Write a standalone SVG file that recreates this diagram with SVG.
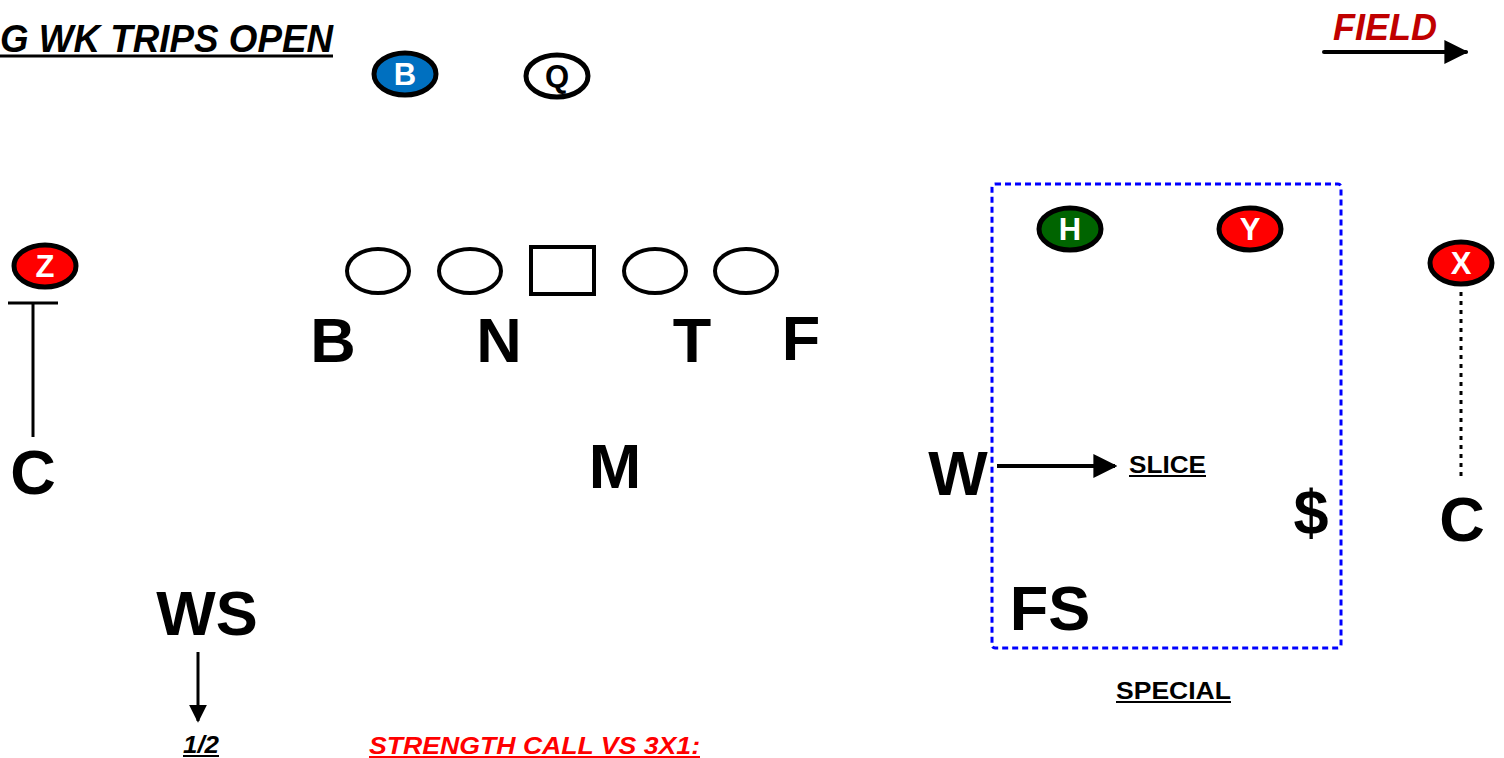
<svg xmlns="http://www.w3.org/2000/svg" width="1504" height="758" viewBox="0 0 1504 758">
<style>
.lbl{font-family:"Liberation Sans",Arial,sans-serif;font-weight:bold;font-size:63px;fill:#000;text-anchor:middle}
.pl{stroke:#000;stroke-width:5}
.pt{font-family:"Liberation Sans",Arial,sans-serif;font-weight:bold;font-size:31px;fill:#fff;text-anchor:middle}
.ol{fill:#fff;stroke:#000;stroke-width:4}
.sm{font-family:"Liberation Sans",Arial,sans-serif;font-weight:bold;font-size:23px;fill:#000}
.ul{stroke:#000;stroke-width:2}
</style>
<defs>
<marker id="ah" viewBox="0 0 10 10" refX="9" refY="5" markerWidth="6" markerHeight="6" markerUnits="strokeWidth" orient="auto">
<path d="M0,0 L10,5 L0,10 z" fill="#000"/>
</marker>
</defs>
<rect width="1504" height="758" fill="#fff"/>
<g id="title">
<text x="0" y="52" font-family="Liberation Sans,Arial,sans-serif" font-weight="bold" font-style="italic" font-size="39" textLength="333" lengthAdjust="spacingAndGlyphs">G WK TRIPS OPEN</text>
<line x1="0" y1="56" x2="333" y2="56" stroke="#000" stroke-width="3"/>
</g>
<g id="field">
<text x="1385" y="40" font-family="Liberation Sans,Arial,sans-serif" font-weight="bold" font-style="italic" font-size="36" fill="#c00000" text-anchor="middle">FIELD</text>
</g>
<g id="connectors">
<line x1="1324" y1="52" x2="1466" y2="52" stroke="#000" stroke-width="4" stroke-linecap="round" marker-end="url(#ah)"/>
<line x1="8" y1="303" x2="58" y2="303" stroke="#000" stroke-width="3"/>
<line x1="33" y1="303" x2="33" y2="437" stroke="#000" stroke-width="3"/>
<line x1="1461" y1="292" x2="1461" y2="478" stroke="#000" stroke-width="3" stroke-dasharray="4 5"/>
<line x1="997" y1="466" x2="1115" y2="466" stroke="#000" stroke-width="4" marker-end="url(#ah)"/>
<line x1="198" y1="652" x2="198" y2="721" stroke="#000" stroke-width="3" marker-end="url(#ah)"/>
</g>
<g id="node-B"><ellipse cx="405" cy="74" rx="31" ry="21" fill="#0070c0" class="pl"/><text x="405" y="85" class="pt">B</text></g>
<g id="node-Q"><ellipse cx="557" cy="76" rx="31" ry="21" fill="#fff" class="pl"/><text x="557" y="87" class="pt" style="fill:#000">Q</text></g>
<g id="node-Z"><ellipse cx="45" cy="266" rx="31" ry="21" fill="#ff0000" class="pl"/><text x="45" y="277" class="pt">Z</text></g>
<g id="node-H"><ellipse cx="1070" cy="229" rx="31" ry="21" fill="#006400" class="pl"/><text x="1070" y="240" class="pt">H</text></g>
<g id="node-Y"><ellipse cx="1250" cy="229" rx="31" ry="21" fill="#ff0000" class="pl"/><text x="1250" y="240" class="pt">Y</text></g>
<g id="node-X"><ellipse cx="1461" cy="263" rx="31" ry="21" fill="#ff0000" class="pl"/><text x="1461" y="274" class="pt">X</text></g>
<g id="oline">
<ellipse cx="378" cy="271" rx="31" ry="22" class="ol"/>
<ellipse cx="470" cy="271" rx="31" ry="22" class="ol"/>
<rect x="531" y="247" width="63" height="47" class="ol"/>
<ellipse cx="655" cy="271" rx="31" ry="22" class="ol"/>
<ellipse cx="746" cy="271" rx="31" ry="22" class="ol"/>
</g>
<g id="special-box"><rect x="992" y="184" width="349" height="464" rx="3" fill="none" stroke="#0000ff" stroke-width="3" stroke-dasharray="6 4"/></g>
<g id="def-B"><text x="333" y="362" class="lbl">B</text></g>
<g id="def-N"><text x="499" y="362" class="lbl">N</text></g>
<g id="def-T"><text x="692" y="362" class="lbl">T</text></g>
<g id="def-F"><text x="801" y="360" class="lbl">F</text></g>
<g id="def-M"><text x="615" y="488" class="lbl">M</text></g>
<g id="def-W"><text x="958" y="495" class="lbl">W</text></g>
<g id="def-C1"><text x="33" y="494" class="lbl">C</text></g>
<g id="def-C2"><text x="1462" y="541" class="lbl">C</text></g>
<g id="def-dollar"><text x="1311" y="534" class="lbl">$</text></g>
<g id="def-WS"><text x="207" y="635" class="lbl">WS</text></g>
<g id="def-FS"><text x="1050" y="630" class="lbl">FS</text></g>
<g id="labels">
<text x="1129" y="473" class="sm" textLength="77" lengthAdjust="spacingAndGlyphs">SLICE</text>
<line x1="1129" y1="476" x2="1206" y2="476" class="ul"/>
<text x="1116" y="699" class="sm" textLength="115" lengthAdjust="spacingAndGlyphs">SPECIAL</text>
<line x1="1116" y1="702" x2="1231" y2="702" class="ul"/>
<text x="183" y="753" class="sm" font-style="italic" textLength="36" lengthAdjust="spacingAndGlyphs">1/2</text>
<line x1="183" y1="756" x2="219" y2="756" class="ul"/>
<text x="369" y="754" font-family="Liberation Sans,Arial,sans-serif" font-weight="bold" font-style="italic" font-size="24" fill="#ff0000" textLength="331" lengthAdjust="spacingAndGlyphs">STRENGTH CALL VS 3X1:</text>
<line x1="369" y1="757" x2="700" y2="757" stroke="#ff0000" stroke-width="2"/>
</g>
</svg>
